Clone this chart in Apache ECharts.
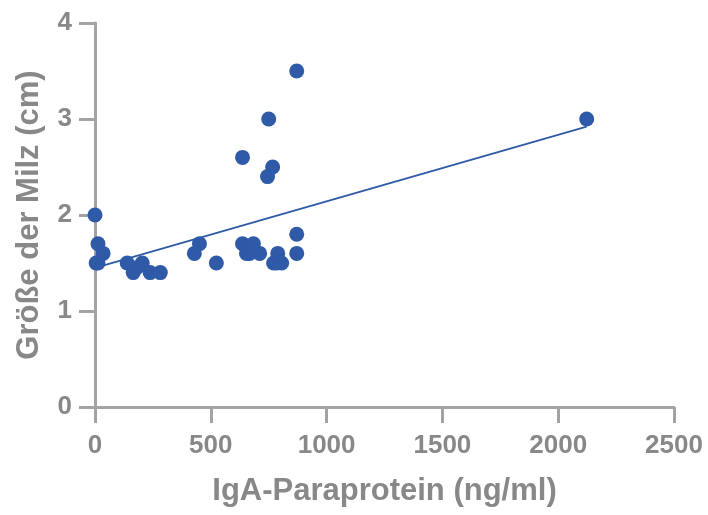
<!DOCTYPE html>
<html>
<head>
<meta charset="utf-8">
<script src="https://cdn.jsdelivr.net/npm/echarts@6/dist/echarts.min.js"></script>
<style>
  html, body { margin: 0; padding: 0; background: #fff; }
  #chart { width: 708px; height: 515px; }
</style>
</head>
<body>
<div id="chart"></div>
<script>
// IgA-Paraprotein (ng/ml) gegen Milzgröße (cm)
const igaValues = [0, 13, 35, 13, 5, 139, 165, 204, 238, 282, 180,
  429, 451, 524, 637, 654, 684, 667, 711, 771, 784, 789, 806, 871, 871,
  637, 745, 767, 750, 871, 2123];
const milzValues = [2.0, 1.7, 1.6, 1.5, 1.5, 1.5, 1.4, 1.5, 1.4, 1.4, 1.45,
  1.6, 1.7, 1.5, 1.7, 1.6, 1.7, 1.6, 1.6, 1.5, 1.5, 1.6, 1.5, 1.6, 1.8,
  2.6, 2.4, 2.5, 3.0, 3.5, 3.0];
// Regressionsgerade, Endpunkte
const trendX = [0, 2123];
const trendY = [1.45, 2.92];
const xTicks = [0, 2500, 500];
const yTicks = [0, 4, 1];

const dotColor = '#2e5aa7';
const axisColor = '#a3a3a3';
const labelColor = '#888888';
const font = 'Liberation Sans, Arial, sans-serif';

const points = igaValues.map((v, i) => [v, milzValues[i]]);
const trend = trendX.map((v, i) => [v, trendY[i]]);

const myechart = echarts.init(document.getElementById('chart'));
const option = {
  animation: false,
  grid: {
    left: 95,
    right: 34,
    top: 23,
    bottom: 108,
  },
  xAxis: {
    type: 'value',
    min: xTicks[0],
    max: xTicks[1],
    interval: xTicks[2],
    name: 'IgA-Paraprotein (ng/ml)',
    nameLocation: 'middle',
    nameGap: 69,
    nameTextStyle: { color: labelColor, fontSize: 31, fontWeight: 'bold', fontFamily: font },
    axisLine: { lineStyle: { color: axisColor, width: 3 } },
    axisTick: { length: 16, lineStyle: { color: axisColor, width: 3 } },
    axisLabel: {
      color: labelColor, fontSize: 26, fontWeight: 'bold', fontFamily: font, margin: 26,
      formatter: (v) => String(v),
    },
    splitLine: { show: false },
  },
  yAxis: {
    type: 'value',
    min: yTicks[0],
    max: yTicks[1],
    interval: yTicks[2],
    name: 'Größe der Milz (cm)',
    nameLocation: 'middle',
    nameGap: 50,
    nameTextStyle: { color: labelColor, fontSize: 31, fontWeight: 'bold', fontFamily: font },
    axisLine: { show: true, lineStyle: { color: axisColor, width: 3 } },
    axisTick: { show: true, length: 16, lineStyle: { color: axisColor, width: 3 } },
    axisLabel: {
      color: labelColor, fontSize: 26, fontWeight: 'bold', fontFamily: font, margin: 23,
      formatter: (v) => String(v),
    },
    splitLine: { show: false },
  },
  series: [
    {
      type: 'line',
      data: trend,
      symbol: 'none',
      lineStyle: { color: dotColor, width: 1.8 },
      z: 2,
    },
    {
      type: 'scatter',
      data: points,
      symbolSize: 15,
      itemStyle: { color: dotColor, opacity: 1 },
      z: 3,
    },
  ],
};
myechart.setOption(option);
</script>
</body>
</html>
